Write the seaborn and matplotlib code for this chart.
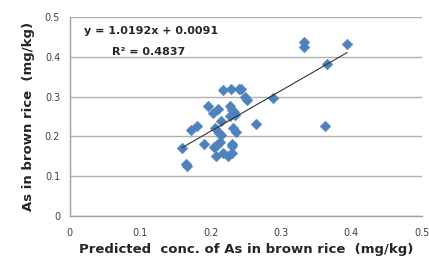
import numpy as np
import pandas as pd
import matplotlib
matplotlib.use("Agg")
import matplotlib.pyplot as plt
import seaborn as sns

# valores
predito = [0.333, 0.333, 0.394, 0.366, 0.363, 0.288, 0.265, 0.217, 0.229, 0.241,
           0.243, 0.249, 0.252, 0.196, 0.211, 0.204, 0.228, 0.230, 0.233, 0.235,
           0.227, 0.215, 0.206, 0.212, 0.215, 0.232, 0.236, 0.180, 0.172, 0.190,
           0.159, 0.165, 0.166, 0.205, 0.209, 0.214, 0.208, 0.218, 0.225, 0.231,
           0.230, 0.231]
medido = [0.437, 0.425, 0.431, 0.381, 0.226, 0.297, 0.232, 0.316, 0.320, 0.318,
          0.320, 0.299, 0.291, 0.276, 0.270, 0.258, 0.276, 0.266, 0.262, 0.253,
          0.251, 0.239, 0.220, 0.209, 0.203, 0.220, 0.210, 0.226, 0.215, 0.182,
          0.170, 0.130, 0.125, 0.174, 0.178, 0.186, 0.150, 0.159, 0.151, 0.157,
          0.181, 0.176]
inclinacao = 1.0192
intercepto = 0.0091
r2 = 0.4837
ticks = [0, 0.1, 0.2, 0.3, 0.4, 0.5]
tick_labels = ["0", "0.1", "0.2", "0.3", "0.4", "0.5"]

df = pd.DataFrame({"x": predito, "y": medido})

sns.set_style("white")
plt.rcParams['font.family'] = ['DejaVu Sans']

fig = plt.figure(figsize=(4.29, 2.62), dpi=100)
ax = fig.add_axes([0.163, 0.176, 0.820, 0.759])

sns.scatterplot(data=df, x="x", y="y", marker="D", s=30, color="#4F81BD",
                edgecolor="#4F81BD", linewidth=0.3, ax=ax, zorder=3)

# linha de tendência
xs = np.array([min(predito), max(predito)])
sns.lineplot(x=xs, y=inclinacao * xs + intercepto, color="#333333", lw=0.8, ax=ax, zorder=4)

ax.set_xlim(0, 0.5)
ax.set_ylim(0, 0.5)
ax.set_xticks(ticks)
ax.set_yticks(ticks)
ax.set_xticklabels(tick_labels, fontsize=7, color="#404040")
ax.set_yticklabels(tick_labels, fontsize=7, color="#404040")
ax.yaxis.grid(True, color="#b0b0b0", lw=1)
ax.xaxis.grid(False)
for s in ["top", "right"]:
    ax.spines[s].set_visible(False)
for s in ["left", "bottom"]:
    ax.spines[s].set_color("#a0a0a0")
    ax.spines[s].set_linewidth(1)
ax.tick_params(axis="both", direction="out", length=3, width=1, color="#a0a0a0", pad=4)
ax.tick_params(axis="x", pad=6)

ax.set_xlabel("Predicted  conc. of As in brown rice  (mg/kg)", fontsize=9.5, fontweight="bold", labelpad=3)
ax.set_ylabel("As in brown rice  (mg/kg)", fontsize=9.5, fontweight="bold", labelpad=7)

ax.text(0.02, 0.465, f"y = {inclinacao}x + {intercepto}", fontsize=8, fontweight="bold", va="center")
ax.text(0.06, 0.412, f"R² = {r2}", fontsize=8, fontweight="bold", va="center")

fig.savefig("out.png", dpi=100)
